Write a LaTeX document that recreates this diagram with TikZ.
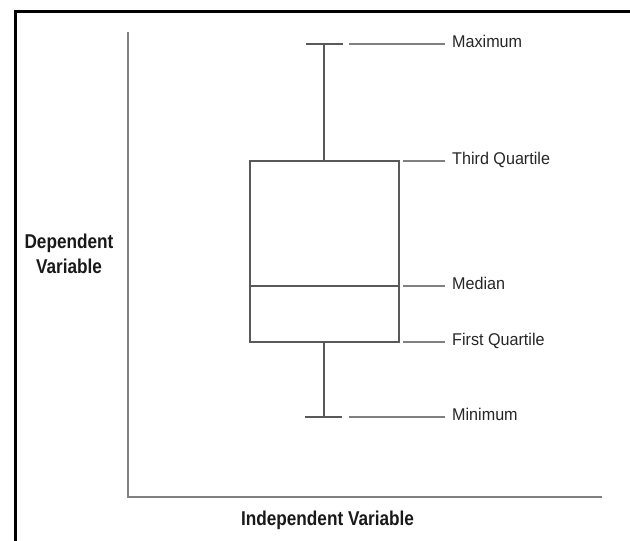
\documentclass[tikz,border=0pt]{standalone}
\usepackage{fontspec}
\setmainfont{Liberation Sans}
\newfontfamily\fonterotulo[FakeStretch=0.95]{Liberation Sans}
\newfontfamily\fontetitulo[FakeStretch=0.86]{Liberation Sans}
\usetikzlibrary{calc,positioning}
\tikzset{
moldura/.style={line width=3pt, black}
}
\tikzset{
eixo/.style={line width=1.5pt, black!50}
}
\tikzset{
caixa/.style={line width=1.2pt, black!65}
}
\tikzset{
guia/.style={line width=1.2pt, black!50, shorten >=7pt}
}
\tikzset{
rotulo/.style={anchor=west, inner sep=0pt, text=black!85, text height=1.38ex, text depth=0pt,
    font=\fonterotulo\fontsize{17}{20}\selectfont}
}
\tikzset{
titulo/.style={inner sep=0pt, align=center, text=black!90,
    font=\fontetitulo\bfseries\fontsize{20}{25}\selectfont}
}

\begin{document}
\begin{tikzpicture}[x=1pt,y=-1pt]
        \useasboundingbox (0,0) rectangle (630,541);

        % moldura
        \draw[moldura] (15,541) -- (15,11) -- (630,11);

        % eixos
        \coordinate (O) at (128,497);
        \draw[eixo] (128,32) -- (O) -- (602,497);
        \node[titulo] (dep) at (69,254) {Dependent\\Variable};
        \node[titulo] (indep) at (327.5,520) {Independent Variable};

        % caixa
        \coordinate (A) at (250,342);
        \coordinate (B) at (399,161);
        \coordinate (M1) at (250,286);
        \coordinate (M2) at (399,286);
        \draw[caixa] (A) rectangle (B);
        \draw[caixa] (M1) -- (M2);

        % bigodes
        \coordinate (T) at (324,161);
        \coordinate (Tmax) at (324,44);
        \coordinate (U) at (324,342);
        \coordinate (Umin) at (324,417);
        \draw[caixa] (T) -- (Tmax);
        \draw[caixa] (U) -- (Umin);
        \draw[caixa] (306,44) -- (343,44);
        \draw[caixa] (305,417) -- (342,417);

        % rotulos
        \node[rotulo] (max) at (452,44) {Maximum};
        \node[rotulo] (q3) at (452,161) {Third Quartile};
        \node[rotulo] (med) at (452,286) {Median};
        \node[rotulo] (q1) at (452,342) {First Quartile};
        \node[rotulo] (min) at (452,417) {Minimum};

        \draw[guia] (349,44) -- (max.west);
        \draw[guia] (403,161) -- (q3.west);
        \draw[guia] (403,286) -- (med.west);
        \draw[guia] (403,342) -- (q1.west);
        \draw[guia] (349,417) -- (min.west);
    \end{tikzpicture}
\end{document}
